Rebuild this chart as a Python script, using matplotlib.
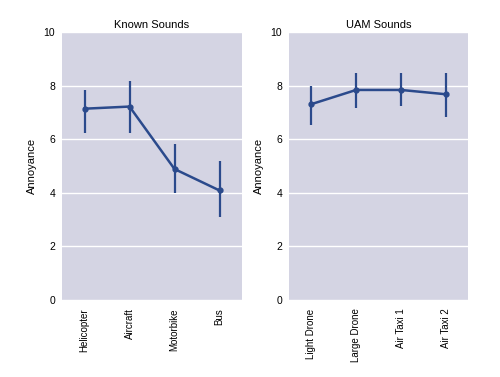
import numpy as np
import matplotlib
matplotlib.use("Agg")
import matplotlib.pyplot as plt

plt.rcParams['font.family'] = ['Liberation Sans', 'DejaVu Sans']

# Known sounds
known_labels = ['Helicopter', 'Aircraft', 'Motorbike', 'Bus']
known_mean = [7.14, 7.22, 4.89, 4.09]
known_low = [6.22, 6.22, 3.98, 3.11]
known_high = [7.84, 8.17, 5.81, 5.19]

# UAM sounds
uam_labels = ['Light Drone', 'Large Drone', 'Air Taxi 1', 'Air Taxi 2']
uam_mean = [7.31, 7.84, 7.84, 7.68]
uam_low = [6.53, 7.17, 7.24, 6.84]
uam_high = [7.99, 8.46, 8.46, 8.46]

bg = '#d4d4e3'
col = '#2b4a8c'

fig = plt.figure(figsize=(5, 3.77), dpi=100)
ax1 = fig.add_axes([0.124, 0.204, 0.360, 0.711])
ax2 = fig.add_axes([0.578, 0.204, 0.358, 0.711])

for ax, labels, m, lo, hi, title in [
    (ax1, known_labels, known_mean, known_low, known_high, 'Known Sounds'),
    (ax2, uam_labels, uam_mean, uam_low, uam_high, 'UAM Sounds'),
]:
    x = np.arange(len(labels))
    ax.set_facecolor(bg)
    ax.yaxis.grid(True, color='white', linewidth=1)
    ax.set_axisbelow(True)
    ax.vlines(x, lo, hi, color=col, linewidth=1.6)
    ax.plot(x, m, color=col, linewidth=1.8, marker='o', markersize=3.5)
    ax.set_xlim(-0.5, len(labels) - 0.5)
    ax.set_ylim(0, 10)
    ax.set_yticks([0, 2, 4, 6, 8, 10])
    ax.set_xticks(x)
    ax.set_xticklabels(labels, rotation=90, fontsize=7)
    ax.tick_params(axis='y', labelsize=7.5, length=0, pad=5)
    ax.tick_params(axis='x', length=0, pad=6)
    for s in ax.spines.values():
        s.set_visible(False)
    ax.set_ylabel('Annoyance', fontsize=8, labelpad=5)
    ax.set_title(title, fontsize=8, pad=3)

fig.savefig('out.png', dpi=100)
